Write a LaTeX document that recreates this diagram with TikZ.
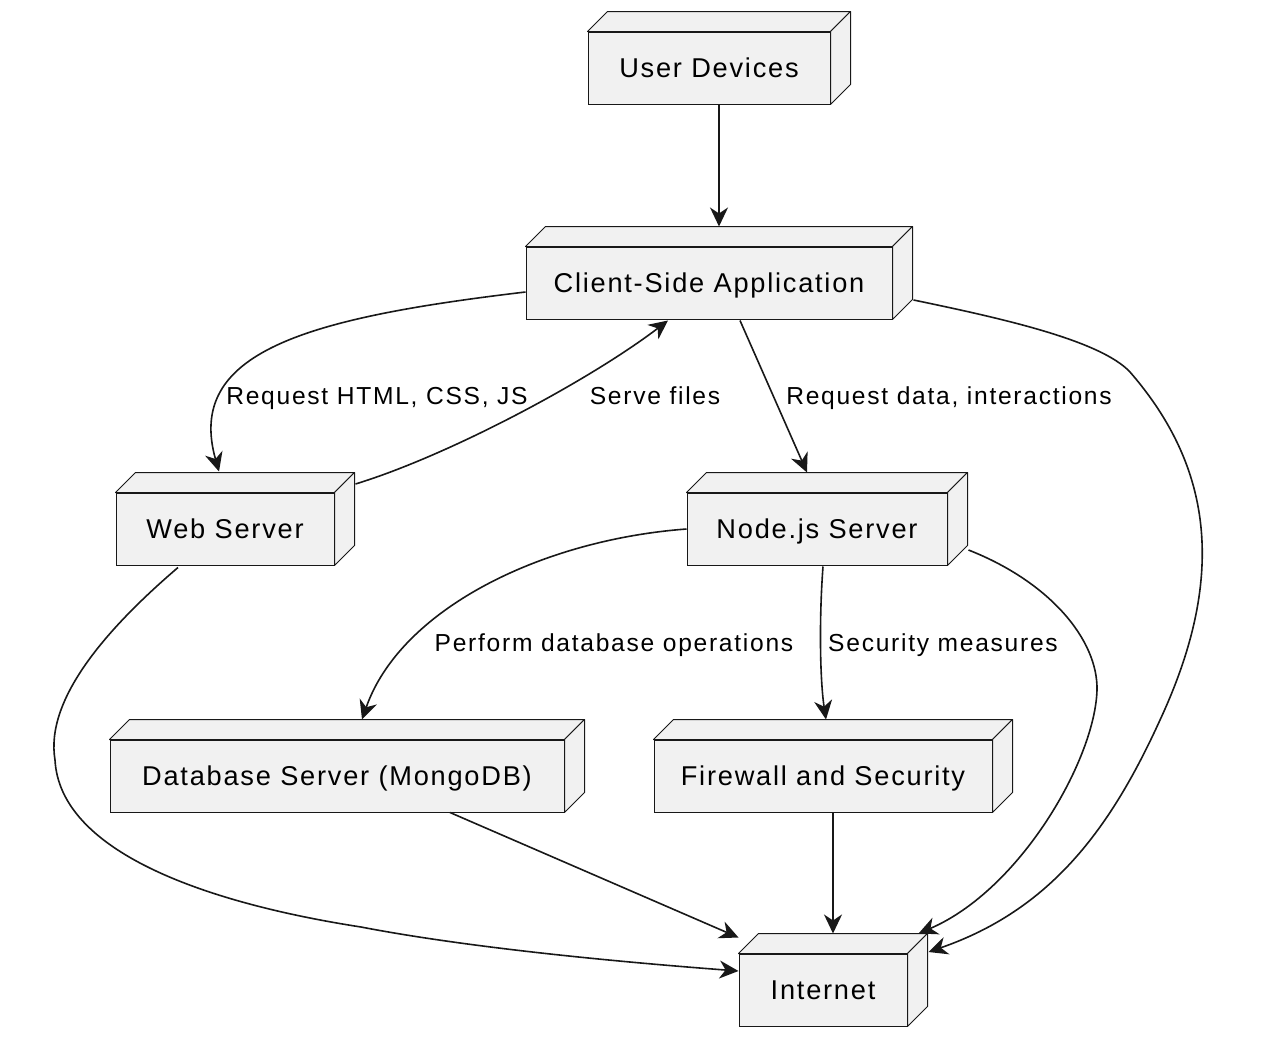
\documentclass[tikz,border=0pt]{standalone}
\usepackage{fontspec}
\usetikzlibrary{arrows.meta,calc}
\newfontfamily\boxfont[LetterSpace=6.5]{Liberation Sans}
\newfontfamily\edgefont[LetterSpace=7]{Liberation Sans}
\definecolor{boxfill}{HTML}{F1F1F1}
\definecolor{boxline}{HTML}{181818}

\tikzset{
  device/.style={draw=boxline, fill=boxfill, line width=1pt, minimum height=72pt, inner sep=0pt,
    text height=19.5pt, text depth=0pt, font=\boxfont\fontsize{27.2}{32}\selectfont},
  face/.style={draw=boxline, fill=boxfill, line width=1pt, line join=round},
  link/.style={draw=boxline, line width=1.6pt, -{Stealth[length=19pt,width=18pt,inset=6pt]}},
  lbl/.style={font=\edgefont\fontsize{24.6}{29}\selectfont, inner sep=0pt, text height=17.6pt, text depth=0pt}
}

\begin{document}
\begin{tikzpicture}[x=1pt,y=1pt,yscale=-1]
\useasboundingbox (0,0) rectangle (1266,1060);

% devices
\node[device, minimum width=242pt] (usr) at (709,68) {User Devices};
\node[device, minimum width=366pt] (cli) at (709,283) {Client-Side Application};
\node[device, minimum width=218pt] (web) at (225,529) {Web Server};
\node[device, minimum width=260pt] (nod) at (817,529) {Node.js Server};
\node[device, minimum width=454pt] (db) at (337,776) {Database Server (MongoDB)};
\node[device, minimum width=338pt] (fw) at (823,776) {Firewall and Security};
\node[device, minimum width=168pt] (inet) at (823,990) {Internet};

% depth of the boxes
\foreach \n in {usr,cli,web,nod,db,fw,inet}{
  \draw[face] (\n.north west) -- ++(20,-20) -- ($(\n.north east)+(20,-20)$) -- (\n.north east) -- cycle;
  \draw[face] (\n.north east) -- ++(20,-20) -- ($(\n.south east)+(20,-20)$) -- (\n.south east) -- cycle;
}

% edge labels
\node[lbl] (lhtml) at (377,396) {Request HTML, CSS, JS};
\node[lbl] (lserve) at (655,396) {Serve files};
\node[lbl] (ldata) at (949,396) {Request data, interactions};
\node[lbl] (ldb) at (614,643) {Perform database operations};
\node[lbl] (lsec) at (943,643) {Security measures};

% connections
\draw[link] ($(usr.south)+(10,0)$) -- ($(cli.north)+(10,-20)$);
\draw[link] ($(cli.west)+(0,9)$) .. controls (306,318) and (185,352) .. ($(web.north)+(-6,-21)$);
\draw[link] ($(web.east)+(21,-45)$) .. controls (450,455) and (590,380) .. ($(cli.south)+(-41,1)$);
\draw[link] ($(cli.south)+(31,1)$) -- ($(nod.north)+(-10,-20)$);
\draw[link] ($(cli.east)+(21,17)$) .. controls (1000,318) and (1100,340) .. (1130,372)
  .. controls (1215,470) and (1225,580) .. (1160,720)
  .. controls (1110,830) and (1050,910) .. ($(inet.east)+(21,-38)$);
\draw[link] ($(web.south)+(-47,2)$) .. controls (105,630) and (45,700) .. (55,760)
  .. controls (60,850) and (200,902) .. (361,927)
  .. controls (470,948) and (620,962) .. ($(inet.west)+(0,-19)$);
\draw[link] (nod.west) .. controls (540,540) and (400,610) .. ($(db.north)+(25,-20)$);
\draw[link] ($(nod.south)+(6,1)$) .. controls (819,620) and (820,680) .. ($(fw.north)+(3,-20)$);
\draw[link] ($(nod.east)+(21,21)$) .. controls (1050,582) and (1098,640) .. (1097,690)
  .. controls (1095,760) and (1020,890) .. ($(inet.north east)+(11,-20)$);
\draw[link] ($(db.south)+(113,0)$) -- ($(inet.north west)+(0,-16)$);
\draw[link] ($(fw.south)+(10,0)$) -- ($(inet.north)+(10,-20)$);

\end{tikzpicture}
\end{document}
